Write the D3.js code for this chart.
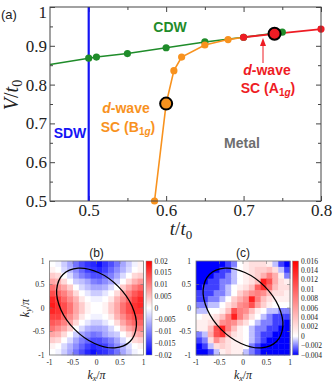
<!DOCTYPE html>
<html>
<head>
<meta charset="utf-8">
<script src="https://cdn.jsdelivr.net/npm/d3@7"></script>
<style>
body{margin:0;background:#fff}
svg{display:block}
text{font-family:"Liberation Serif","Times New Roman",serif;fill:#222}
.sans{font-family:"Liberation Sans",Arial,sans-serif;font-weight:bold}
</style>
</head>
<body>
<div class="canvas"></div>
<script>
var W = 332, H = 382;

// panel (a): phase boundaries in the (t/t0, V/t0) plane
var cdwT = [0.45, 0.5, 0.51, 0.55, 0.6, 0.65, 0.7, 0.75];
var cdwV = [0.852, 0.868, 0.871, 0.88, 0.895, 0.91, 0.922, 0.935];
var sdwT = [0.5, 0.5];
var sdwV = [0.5, 1.0];
var b1gT = [0.585, 0.6, 0.61, 0.62, 0.65, 0.68, 0.7];
var b1gV = [0.5, 0.751, 0.836, 0.871, 0.902, 0.916, 0.922];
var a1gT = [0.7, 0.74, 0.8];
var a1gV = [0.922, 0.931, 0.943];
var b1gPick = 1, a1gPick = 1;   // circled points

var xTicks = [0.5, 0.6, 0.7, 0.8], xMinor = [0.55, 0.65, 0.75];
var yTicks = [0.5, 0.6, 0.7, 0.8, 0.9, 1.0], yMinor = [0.55, 0.65, 0.75, 0.85, 0.95];

// panels (b),(c): 16x16 maps over kx,ky in [-1,1], rows from ky=1 down; units of 1e-3
var mapB = [
 [0,-1,-4,-7,-11,-14,-16,-17,-19,-16,-14,-11,-7,-4,-1,1],
 [1,0,-3,-6,-9,-12,-15,-16,-17,-15,-12,-9,-6,-3,0,1],
 [4,3,0,-3,-7,-10,-12,-14,-14,-12,-10,-7,-3,0,3,4],
 [7,6,3,0,-4,-5,-7,-10,-11,-9,-7,-4,0,3,6,8],
 [11,9,7,4,0,-3,-5,-7,-7,-6,-3,0,4,7,10,12],
 [14,12,10,7,3,0,-2,-4,-4,-2,0,3,7,10,13,15],
 [17,15,12,9,6,2,0,-1,-1,0,2,6,9,12,15,17],
 [18,16,14,11,7,4,1,0,0,1,4,7,11,14,16,17],
 [17,16,14,11,7,4,1,0,0,1,4,7,11,14,16,16],
 [15,15,12,9,6,2,0,-1,-1,0,2,6,9,12,14,14],
 [13,12,10,7,3,0,-2,-4,-4,-2,0,3,7,10,12,12],
 [11,9,7,4,0,-3,-6,-7,-7,-6,-3,0,4,7,9,10],
 [7,6,3,0,-4,-7,-9,-11,-10,-7,-5,-4,0,3,6,7],
 [4,3,0,-3,-7,-10,-12,-14,-14,-12,-10,-7,-3,0,3,4],
 [1,0,-3,-6,-9,-12,-15,-17,-16,-15,-12,-9,-6,-3,0,1],
 [0,-1,-4,-7,-11,-14,-17,-19,-17,-16,-14,-11,-7,-4,-1,0]
];
var mapC = [
 [-4,-4,-4,-4,-4,-3,-2,0,1,2,2,2,1,-1,-3,-4],
 [-4,-4,-4,-4,-3,-3,-1,0,1,2,3,3,4,2,-1,-3],
 [-4,-4,-4,-3,-3,-2,-1,0,1,2,3,5,8,5,1,-2],
 [-4,-4,-3,-3,-2,-2,-1,0,1,2,4,14,11,5,2,1],
 [-4,-3,-3,-3,-2,-1,0,1,2,4,10,13,9,4,2,2],
 [-3,-3,-3,-2,-2,-1,0,3,5,7,8,7,4,2,2,1],
 [-3,-3,-2,-2,-1,0,3,5,7,14,8,4,2,1,1,1],
 [-2,-2,-1,-1,0,2,4,7,8,11,6,3,1,0,0,0],
 [-1,-1,0,0,1,4,11,8,7,4,1,0,-1,-1,-2,-2],
 [0,1,1,2,4,8,14,8,5,2,0,-1,-2,-3,-3,-3],
 [1,1,2,3,7,8,7,4,2,0,-1,-2,-2,-3,-3,-4],
 [1,1,4,11,14,8,4,1,0,-1,-2,-2,-3,-3,-4,-4],
 [-2,-1,5,11,13,5,2,1,0,-1,-2,-3,-3,-4,-4,-4],
 [-3,-2,2,7,4,2,1,1,0,-1,-2,-3,-4,-4,-4,-4],
 [-4,-3,-1,2,3,2,1,1,0,-2,-3,-4,-4,-4,-4,-4],
 [-4,-4,-3,-1,1,2,1,1,-1,-2,-3,-4,-4,-4,-4,-4]
];
// Fermi surface contour (kx, ky)
var fermi = [[0.714,-0.714],[0.848,-0.389],[0.755,0.041],[0.46,0.46],[0.041,0.755],[-0.389,0.848],
             [-0.714,0.714],[-0.848,0.389],[-0.755,-0.041],[-0.46,-0.46],[-0.041,-0.755],[0.389,-0.848]];
var kTicks = [-1, -0.5, 0, 0.5, 1];
var barB = [0.02, 0.015, 0.01, 0.005, 0, -0.005, -0.01, -0.015, -0.02];
var barC = [0.016, 0.014, 0.012, 0.01, 0.008, 0.006, 0.004, 0.002, 0, -0.002, -0.004];

var green = '#1f8c2a', blue = '#1414f5', orange = '#f8921e', red = '#ee1c24', grey = '#6e6e6e';

var svg = d3.select('.canvas').append('svg').attr('width', W).attr('height', H);

// ---------- panel (a) ----------
var x = d3.scaleLinear().domain([0.45, 0.8]).range([50, 321]);
var y = d3.scaleLinear().domain([0.5, 1]).range([201, 7]);
var pa = svg.append('g');

function axis(gen, sc, vals, size, labels, tr) {
  var a = pa.append('g').attr('transform', tr)
    .call(gen(sc).tickValues(vals).tickSizeInner(-size).tickSizeOuter(0).tickPadding(3)
      .tickFormat(labels ? d3.format('~g') : ''));
  a.select('.domain').remove();
  a.selectAll('line').attr('stroke', '#444');
  a.selectAll('text').style('font-size', '17px').attr('fill', '#222');
  return a;
}
axis(d3.axisBottom, x, xTicks, 5, true, 'translate(0,201)');
axis(d3.axisBottom, x, xMinor, 3, false, 'translate(0,201)');
axis(d3.axisTop, x, xTicks, 5, false, 'translate(0,7)');
axis(d3.axisTop, x, xMinor, 3, false, 'translate(0,7)');
var ya = axis(d3.axisLeft, y, yTicks, 5, true, 'translate(50,0)');
ya.selectAll('text').filter(function(d){ return d === 1; }).attr('dy', '0.62em');
axis(d3.axisLeft, y, yMinor, 3, false, 'translate(50,0)');
axis(d3.axisRight, y, yTicks, 5, false, 'translate(321,0)');
axis(d3.axisRight, y, yMinor, 3, false, 'translate(321,0)');

var line = d3.line().x(function(d){ return x(d[0]); }).y(function(d){ return y(d[1]); });
function zip(a, b){ return a.map(function(v, i){ return [v, b[i]]; }); }

pa.append('path').attr('d', line(zip(cdwT, cdwV))).attr('fill', 'none').attr('stroke', green).attr('stroke-width', 1.6);
pa.append('path').attr('d', line(zip(b1gT, b1gV))).attr('fill', 'none').attr('stroke', orange).attr('stroke-width', 1.6);
pa.append('path').attr('d', line(zip(a1gT, a1gV))).attr('fill', 'none').attr('stroke', red).attr('stroke-width', 1.8);
pa.append('path').attr('d', line(zip(sdwT, sdwV))).attr('fill', 'none').attr('stroke', blue).attr('stroke-width', 2.2);

function dots(pts, col, pick) {
  pa.selectAll(null).data(pts).enter().append('circle')
    .attr('cx', function(d){ return x(d[0]); })
    .attr('cy', function(d){ return y(d[1]); })
    .attr('r', function(d, i){ return i === pick ? 6 : 3.6; })
    .attr('fill', col)
    .attr('stroke', function(d, i){ return i === pick ? '#000' : 'none'; })
    .attr('stroke-width', 2);
}
dots(zip(cdwT, cdwV).slice(1), green, -1);
dots(zip(b1gT, b1gV).slice(0, 6), orange, b1gPick);
dots(zip(a1gT, a1gV), red, a1gPick);

pa.append('rect').attr('x', 50).attr('y', 7).attr('width', 271).attr('height', 194)
  .attr('fill', 'none').attr('stroke', '#444').attr('stroke-width', 1);

// region labels
function lab(tx, ty, col, parts) {
  var t = pa.append('text').attr('class', 'sans').attr('x', tx).attr('y', ty)
    .attr('text-anchor', 'middle').style('font-size', '14px').style('fill', col);
  parts.forEach(function(p) {
    var s = t.append('tspan').text(p[0]);
    if (p[1] === 'i') s.style('font-style', 'italic');
    if (p[1] === 'sub') s.style('font-size', '10px').attr('dy', 3);
    if (p[1] === 'subi') s.style('font-size', '10px').style('font-style', 'italic');
    if (p[1] === 'up') s.attr('dy', -3);
  });
}
lab(170, 32, green, [['CDW']]);
lab(70, 138, blue, [['SDW']]);
lab(242, 148, grey, [['Metal']]);
lab(126, 113, orange, [['d', 'i'], ['-wave']]);
lab(128, 132, orange, [['SC (B'], ['1', 'sub'], ['g', 'subi'], [')', 'up']]);
lab(267, 75, red, [['d', 'i'], ['-wave']]);
lab(268, 93, red, [['SC (A'], ['1', 'sub'], ['g', 'subi'], [')', 'up']]);

pa.append('line').attr('x1', 263).attr('y1', 63).attr('x2', 263).attr('y2', 45).attr('stroke', red).attr('stroke-width', 1);
pa.append('path').attr('d', 'M263,38L260,46L266,46Z').attr('fill', red);

pa.append('text').attr('class', 'sans').attr('x', 1).attr('y', 19).style('font-size', '13px')
  .style('font-weight', 'normal').text('(a)');

var xt = pa.append('text').attr('x', 181).attr('y', 235).attr('text-anchor', 'middle').style('font-size', '19px');
xt.append('tspan').style('font-style', 'italic').text('t');
xt.append('tspan').text('/');
xt.append('tspan').style('font-style', 'italic').text('t');
xt.append('tspan').style('font-size', '13px').attr('dy', 4).text('0');

var yt = pa.append('text').attr('transform', 'translate(18,95) rotate(-90)').attr('text-anchor', 'middle').style('font-size', '20px');
yt.append('tspan').style('font-style', 'italic').text('V');
yt.append('tspan').text('/');
yt.append('tspan').style('font-style', 'italic').text('t');
yt.append('tspan').style('font-size', '14px').attr('dy', 4).text('0');

// ---------- panels (b), (c) ----------
function heat(x0, grid, dom, bar, title, yLabel) {
  var g = svg.append('g');
  var kx = d3.scaleLinear().domain([-1, 1]).range([x0, x0 + 94]);
  var ky = d3.scaleLinear().domain([-1, 1]).range([355, 261]);
  var col = d3.scaleLinear().domain([dom[0], 0, dom[1]]).range(['#0000ff', '#ffffff', '#ff0000']).clamp(true);
  var n = grid.length;
  grid.forEach(function(row, j) {
    g.selectAll(null).data(row).enter().append('rect')
      .attr('x', function(d, i){ return kx(-1 + 2 * i / n); })
      .attr('y', ky(1 - 2 * j / n))
      .attr('width', kx(2 / n) - kx(0) + 0.4)
      .attr('height', ky(0) - ky(2 / n) + 0.4)
      .attr('fill', function(d){ return col(d / 1000); });
  });
  g.append('path')
    .attr('d', d3.line().x(function(d){ return kx(d[0]); }).y(function(d){ return ky(d[1]); })
      .curve(d3.curveCatmullRomClosed)(fermi))
    .attr('fill', 'none').attr('stroke', '#000').attr('stroke-width', 1.3);
  g.append('rect').attr('x', x0).attr('y', 261).attr('width', 94).attr('height', 94)
    .attr('fill', 'none').attr('stroke', '#777').attr('stroke-width', 0.8);

  kTicks.forEach(function(v) {
    g.append('text').attr('x', kx(v)).attr('y', 364.5).attr('text-anchor', 'middle').style('font-size', '7.5px').text(v);
    g.append('text').attr('x', x0 - 5).attr('y', ky(v) + 2.5).attr('text-anchor', 'end').style('font-size', '7.5px').text(v);
    if (Math.abs(v) < 1) {
      g.append('line').attr('x1', kx(v)).attr('x2', kx(v)).attr('y1', 355).attr('y2', 352).attr('stroke', '#777').attr('stroke-width', 0.6);
      g.append('line').attr('x1', kx(v)).attr('x2', kx(v)).attr('y1', 261).attr('y2', 264).attr('stroke', '#777').attr('stroke-width', 0.6);
      g.append('line').attr('x1', x0).attr('x2', x0 + 3).attr('y1', ky(v)).attr('y2', ky(v)).attr('stroke', '#777').attr('stroke-width', 0.6);
      g.append('line').attr('x1', x0 + 94).attr('x2', x0 + 91).attr('y1', ky(v)).attr('y2', ky(v)).attr('stroke', '#777').attr('stroke-width', 0.6);
    }
  });

  // colour bar
  var cb = d3.scaleLinear().domain(dom).range([355, 261]);
  var gid = 'grad' + title.replace(/\W/g, '');
  var lg = svg.append('defs').append('linearGradient').attr('id', gid)
    .attr('x1', 0).attr('y1', 1).attr('x2', 0).attr('y2', 0);
  col.domain().forEach(function(v, i) {
    lg.append('stop').attr('offset', (v - dom[0]) / (dom[1] - dom[0])).attr('stop-color', col.range()[i]);
  });
  g.append('rect').attr('x', x0 + 96.5).attr('y', 261).attr('width', 6).attr('height', 94)
    .attr('fill', 'url(#' + gid + ')').attr('stroke', '#888').attr('stroke-width', 0.5);
  bar.forEach(function(v) {
    g.append('text').attr('x', x0 + 105).attr('y', cb(v) + 2.5).style('font-size', '7.5px').text(d3.format('~g')(v));
  });

  g.append('text').attr('class', 'sans').attr('x', x0 + 47).attr('y', 257).attr('text-anchor', 'middle')
    .style('font-size', '12px').style('font-weight', 'normal').text(title);

  var t = g.append('text').attr('x', x0 + 47).attr('y', 378.5).attr('text-anchor', 'middle').style('font-size', '12px');
  t.append('tspan').style('font-style', 'italic').text('k');
  t.append('tspan').style('font-style', 'italic').style('font-size', '8px').attr('dy', 2).text('x');
  t.append('tspan').attr('dy', -2).text('/');
  t.append('tspan').style('font-style', 'italic').text('π');
  if (yLabel) {
    var u = g.append('text').attr('transform', 'translate(' + (x0 - 21) + ',308) rotate(-90)')
      .attr('text-anchor', 'middle').style('font-size', '12px');
    u.append('tspan').style('font-style', 'italic').text('k');
    u.append('tspan').style('font-style', 'italic').style('font-size', '8px').attr('dy', 2).text('y');
    u.append('tspan').attr('dy', -2).text('/');
    u.append('tspan').style('font-style', 'italic').text('π');
  }
}
heat(49.5, mapB, [-0.02, 0.02], barB, '(b)', true);
heat(196, mapC, [-0.004, 0.016], barC, '(c)', false);
</script>
</body>
</html>
